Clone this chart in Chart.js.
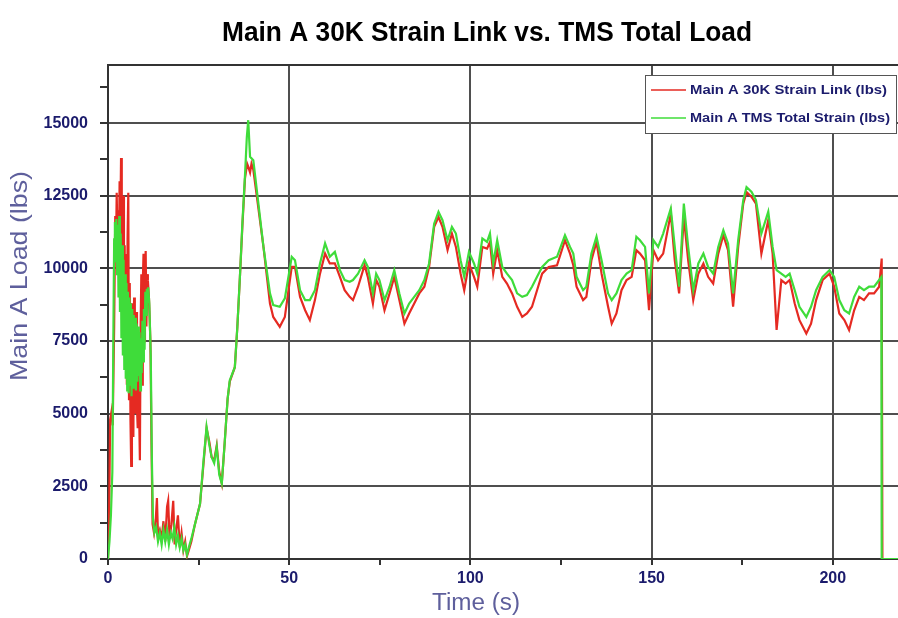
<!DOCTYPE html>
<html>
<head>
<meta charset="utf-8">
<title>Main A 30K Strain Link vs. TMS Total Load</title>
<script src="https://cdn.jsdelivr.net/npm/chart.js@4.4.1/dist/chart.umd.min.js"></script>
<style>
  html, body { margin: 0; padding: 0; background: #fff; }
  canvas { display: block; }
</style>
</head>
<body>
<canvas id="loadChart" width="898" height="618"></canvas>
<script>
// Series (time in s, load in lbs)
const linkTime = [
  0, 0.3, 0.6, 1.0, 1.3, 1.7, 2.0, 2.2, 2.4, 2.6, 2.8, 3.0, 3.2, 3.4, 3.6, 3.8, 4.0, 4.2, 4.4, 4.6,
  4.8, 5.0, 5.2, 5.4, 5.6, 5.8, 6.0, 6.2, 6.4, 6.6, 6.8, 7.0, 7.2, 7.4, 7.6, 7.8, 8.0, 8.2, 8.4, 8.6,
  8.8, 9.0, 9.2, 9.4, 9.6, 9.8, 10.0, 10.2, 10.4, 10.6, 10.8, 11.0, 11.3, 11.7, 12.0, 12.3, 12.7,
  13.2, 13.5, 13.8, 14.3, 14.8, 15.3, 15.8, 16.3, 16.6, 17.0, 17.5, 18.0, 18.4, 18.8, 19.3, 19.8, 20.3, 20.8, 21.3, 21.8,
  22.3, 23.0, 24.0, 25.4, 26.3, 27.2, 28.0, 28.6, 29.3, 30.0, 30.7, 31.4, 32.2, 33.0, 33.6, 35.0, 35.7, 36.4, 37.1, 37.8,
  38.4, 38.7, 39.2, 39.6, 40.1, 42.9, 44.7, 45.6, 47.4, 48.8, 50.7, 51.6, 53.0, 54.4, 55.7, 57.1, 58.5, 59.9, 61.2, 62.6,
  64.0, 65.3, 66.7, 67.6, 69.0, 70.8, 71.7, 73.1, 74.0, 74.9, 76.3, 77.7, 79.0, 80.4, 81.8, 83.1, 84.5, 85.9, 87.3, 88.6,
  90.0, 91.2, 92.3, 93.7, 94.9, 96.0, 97.3, 98.3, 99.6, 101.0, 101.9, 103.3, 104.6, 105.4, 106.3, 107.4, 108.8, 110.1, 111.5, 112.9,
  114.3, 115.6, 117.0, 118.4, 119.8, 121.6, 123.9, 126.1, 127.5, 128.4, 129.3, 131.1, 132.0, 133.4, 134.8, 136.2, 137.1, 138.0, 139.0, 140.3,
  141.7, 143.1, 144.5, 145.8, 146.8, 148.2, 149.3, 150.5, 151.8, 153.2, 155.3, 156.4, 157.6, 158.9, 160.1, 161.5, 162.9, 164.3, 165.6, 167.0,
  168.4, 169.8, 171.1, 172.5, 173.9, 175.3, 176.2, 177.6, 178.8, 180.3, 182.2, 183.4, 184.5, 185.8, 187.0, 188.1, 189.5, 190.8, 192.7, 194.0,
  195.4, 197.2, 199.1, 200.4, 201.8, 203.2, 204.5, 205.9, 207.3, 208.6, 210.0, 211.4, 212.8, 213.5, 213.7, 218
];
const linkLoad = [
  0, 1500, 4800, 5100, 4600, 8000, 11800, 10500, 12600, 11000, 12000, 10000, 13000, 11500, 13800, 9000, 11800, 12500, 7500, 10800,
  6800, 10500, 6000, 11000, 12600, 5500, 9500, 4800, 3200, 8800, 4800, 4200, 9000, 5500, 5000, 8500, 5200, 4500, 7600, 5000,
  3400, 8000, 9800, 6000, 9500, 10500, 7500, 9800, 10600, 8000, 9800, 9600, 9000, 7500, 4000, 1200, 900,
  1400, 2100, 800, 1000, 700, 1300, 600, 1800, 2000, 700, 1200, 2000, 500, 1000, 1500, 400, 900, 300, 600, 100,
  300, 600, 1200, 1900, 3200, 4500, 4000, 3500, 3400, 3900, 3000, 2600, 4000, 5500, 6100, 6600, 8000, 9700, 11500, 13100,
  13600, 13500, 13300, 13600, 13400, 10740, 8790, 8330, 7990, 8330, 10050, 10050, 9020, 8560, 8220, 8910, 9820, 10510, 10170, 10170,
  9710, 9250, 9020, 8910, 9370, 10110, 9710, 8790, 9600, 9370, 8560, 9140, 9710, 8910, 8100, 8450, 8790, 9140, 9370, 10050,
  11430, 11770, 11430, 10630, 11200, 10740, 9820, 9250, 10170, 9710, 9370, 10740, 10680, 10910, 9820, 10630, 9710, 9480, 9140, 8680,
  8330, 8450, 8680, 9250, 9820, 10050, 10110, 10970, 10510, 10110, 9370, 8910, 9020, 10280, 10910, 9820, 9250, 8680, 8100, 8450,
  9250, 9600, 9710, 10630, 10510, 10280, 8560, 10630, 10280, 10510, 11890, 10280, 9140, 11770, 10280, 8910, 9820, 10170, 9710, 9480,
  10510, 11140, 10630, 8680, 10740, 12230, 12630, 12460, 12230, 10510, 11660, 10510, 7880, 9600, 9480, 9600, 8790, 8220, 7760, 8100,
  8910, 9600, 9820, 9370, 8450, 8220, 7880, 8560, 9020, 8910, 9140, 9140, 9370, 10340, 0, 0
];
const tmsTime = [
  0, 0.4, 0.8, 1.2, 1.5, 1.7, 1.9, 2.1, 2.3, 2.5, 2.7, 2.9, 3.1, 3.3, 3.5, 3.7, 3.9, 4.1, 4.3, 4.5,
  4.7, 4.9, 5.1, 5.3, 5.5, 5.7, 5.9, 6.1, 6.3, 6.5, 6.7, 6.9, 7.1, 7.3, 7.5, 7.7, 7.9, 8.1, 8.3, 8.5,
  8.7, 8.9, 9.1, 9.3, 9.5, 9.7, 9.9, 10.1, 10.3, 10.5, 10.7, 10.9, 11.1, 11.4, 11.8, 12.1, 12.4, 12.8,
  13.3, 13.8, 14.3, 14.8, 15.3, 15.8, 16.3, 16.8, 17.3, 17.8, 18.3, 18.8, 19.3, 19.8, 20.3, 20.8, 21.3, 21.8, 22.3, 23.0,
  24.0, 25.4, 26.3, 27.2, 28.0, 28.6, 29.3, 30.0, 30.7, 31.4, 32.2, 33.0, 33.6, 35.0, 35.7, 36.4, 37.1, 37.8, 38.3, 38.7,
  39.2, 40.1, 42.9, 44.7, 45.6, 47.4, 48.8, 50.7, 51.6, 53.0, 54.4, 55.7, 57.1, 58.5, 59.9, 61.2, 62.6, 64.0, 65.3, 66.7,
  67.6, 69.0, 70.8, 71.7, 73.1, 74.0, 74.9, 76.3, 77.7, 79.0, 80.4, 81.8, 83.1, 84.5, 85.9, 87.3, 88.6, 90.0, 91.2, 92.3,
  93.7, 94.9, 96.0, 97.3, 98.3, 99.6, 101.0, 101.9, 103.3, 104.6, 105.4, 106.3, 107.4, 108.8, 110.1, 111.5, 112.9, 114.3, 115.6, 117.0,
  118.4, 119.8, 121.6, 123.9, 126.1, 127.5, 128.4, 129.3, 131.1, 132.0, 133.4, 134.8, 136.2, 137.1, 138.0, 139.0, 140.3, 141.7, 143.1, 144.5,
  145.8, 146.8, 148.2, 149.3, 150.5, 151.8, 153.2, 155.3, 156.4, 157.6, 158.9, 160.1, 161.5, 162.9, 164.3, 165.6, 167.0, 168.4, 169.8, 171.1,
  172.5, 173.9, 175.3, 176.2, 177.6, 178.8, 180.3, 182.2, 183.4, 184.5, 185.8, 187.0, 188.1, 189.5, 190.8, 192.7, 194.0, 195.4, 197.2, 199.1,
  200.4, 201.8, 203.2, 204.5, 205.9, 207.3, 208.6, 210.0, 211.4, 212.8, 213.4, 213.5, 218
];
const tmsLoad = [
  0, 600, 1500, 3000, 8000, 11000, 11600, 10200, 11700, 9800, 11500, 9000, 11800, 8500, 11200, 7600, 10800, 7000, 10300, 6500,
  9800, 6200, 9500, 5800, 9200, 5700, 9000, 6000, 8800, 5600, 8600, 5900, 8400, 6000, 8300, 5800, 8100, 6100, 8000, 6300,
  7800, 5800, 7600, 6400, 8200, 6800, 8600, 7200, 9200, 8400, 9300, 8800, 9350, 8800, 7000, 3500, 1400, 900,
  1100, 600, 900, 500, 1000, 600, 1000, 500, 900, 700, 1100, 500, 800, 400, 700, 300, 500, 150, 400, 700,
  1200, 1900, 3300, 4550, 3900, 3500, 3300, 3850, 2900, 2600, 4000, 5500, 6150, 6600, 8000, 9700, 11600, 13200, 14500, 15100,
  13840, 13720, 10740, 9140, 8740, 8680, 8970, 10400, 10280, 9250, 8910, 8910, 9250, 10170, 10860, 10400, 10570, 9940, 9600, 9540,
  9600, 9820, 10280, 10050, 9140, 9820, 9600, 8910, 9370, 9940, 9140, 8450, 8790, 9020, 9250, 9600, 10170, 11540, 11950, 11660,
  10970, 11430, 11200, 10280, 9710, 10570, 10170, 9820, 11030, 10910, 11200, 10170, 10970, 10050, 9820, 9600, 9140, 9020, 9080, 9370,
  9710, 10050, 10280, 10400, 11140, 10740, 10510, 9710, 9250, 9370, 10510, 11090, 10280, 9710, 9140, 8910, 9140, 9600, 9820, 9940,
  11090, 10970, 10740, 9140, 10970, 10740, 11200, 12060, 10740, 9370, 12230, 10740, 9250, 10170, 10510, 10050, 9820, 10740, 11310, 10860,
  9140, 10970, 12350, 12800, 12630, 12350, 11200, 11950, 10740, 9940, 9820, 9710, 9820, 9250, 8680, 8330, 8680, 9250, 9710, 9940,
  9710, 8910, 8560, 8450, 9020, 9370, 9250, 9370, 9370, 9600, 9700, 0, 0
];
const seriesNames = ['Main A 30K Strain Link (lbs)', 'Main A TMS Total Strain (lbs)'];
const seriesColors = ['#e52a22', '#3fdc3a'];

// Axis ticks: every tick gets a mark, labelled ones get a grid line
const xTicks = [0, 25, 50, 75, 100, 125, 150, 175, 200];
const xLabels = [0, 50, 100, 150, 200];
const yTicks = [0, 1250, 2500, 3750, 5000, 6250, 7500, 8750, 10000, 11250, 12500, 13750, 15000, 16250];
const yLabels = [0, 2500, 5000, 7500, 10000, 12500, 15000];

const X_MAX = 218;
const Y_MAX = 17000;
const NAVY = '#1b1b6c';
const GRID = '#4f4f4f';
const AXIS_TITLE = '#5e5f9c';
const CLEAR = 'rgba(0,0,0,0)';

const toPoints = (xs, ys) => xs.map((x, i) => ({ x, y: ys[i] }));

// Draw text stretched to a target width
function fitText(ctx, text, x, y, width, font, color, align = 'center', angle = 0) {
  ctx.save();
  ctx.translate(x, y);
  ctx.rotate(angle);
  ctx.font = font;
  const w = ctx.measureText(text).width;
  ctx.scale(width / w, 1);
  ctx.fillStyle = color;
  ctx.textAlign = align;
  ctx.textBaseline = 'middle';
  ctx.fillText(text, 0, 0);
  ctx.restore();
}

// Title, axis titles, top frame and the boxed legend
const decorations = {
  id: 'decorations',
  beforeDatasetsDraw(chart) {
    const { ctx, chartArea } = chart;
    ctx.save();
    ctx.strokeStyle = '#333';
    ctx.lineWidth = 2;
    ctx.beginPath();
    ctx.moveTo(chartArea.left, chartArea.top);
    ctx.lineTo(chartArea.right, chartArea.top);
    ctx.stroke();
    ctx.restore();
  },
  afterDraw(chart) {
    const ctx = chart.ctx;
    fitText(ctx, 'Main A 30K Strain Link vs. TMS Total Load', 487, 33, 530,
      'bold 28px "Liberation Sans Narrow", "Liberation Sans", sans-serif', '#000');
    fitText(ctx, 'Main A Load (lbs)', 20, 276, 210,
      '24px "Liberation Sans", Arial, sans-serif', AXIS_TITLE, 'center', -Math.PI / 2);
    fitText(ctx, 'Time (s)', 476, 604, 88,
      '23px "Liberation Sans", Arial, sans-serif', AXIS_TITLE);

    // legend box
    ctx.save();
    ctx.fillStyle = '#fff';
    ctx.fillRect(645, 75, 252, 59);
    ctx.strokeStyle = '#555';
    ctx.lineWidth = 1;
    ctx.strokeRect(645.5, 75.5, 251, 58);
    const rows = [90, 118];
    const widths = [197, 200];
    rows.forEach((y, i) => {
      ctx.strokeStyle = seriesColors[i];
      ctx.lineWidth = 1.5;
      ctx.beginPath();
      ctx.moveTo(651, y);
      ctx.lineTo(686, y);
      ctx.stroke();
      fitText(ctx, seriesNames[i], 690, y, widths[i],
        'bold 13px "Liberation Sans Narrow", "Liberation Sans", sans-serif', NAVY, 'left');
    });
    ctx.restore();
  }
};

const tickFont = { family: '"Liberation Sans", Arial, sans-serif', size: 16, weight: 'bold' };

new Chart(document.getElementById('loadChart'), {
  type: 'line',
  data: {
    datasets: [
      {
        label: seriesNames[0],
        data: toPoints(linkTime, linkLoad),
        borderColor: seriesColors[0],
        borderWidth: 2.2,
        pointRadius: 0,
        tension: 0,
        order: 1
      },
      {
        label: seriesNames[1],
        data: toPoints(tmsTime, tmsLoad),
        borderColor: seriesColors[1],
        borderWidth: 2.2,
        pointRadius: 0,
        tension: 0,
        order: 0
      }
    ]
  },
  options: {
    responsive: false,
    animation: false,
    layout: { padding: { top: 65, left: 0, right: 0, bottom: 0 } },
    plugins: {
      legend: { display: false },
      title: { display: false },
      tooltip: { enabled: false }
    },
    scales: {
      x: {
        type: 'linear',
        min: 0,
        max: X_MAX,
        afterBuildTicks: s => { s.ticks = xTicks.map(value => ({ value })); },
        afterFit: s => { s.height = 59; },
        border: { display: true, color: '#333', width: 2 },
        grid: {
          color: c => (c.tick && c.tick.value > 0 && xLabels.includes(c.tick.value) ? GRID : CLEAR),
          lineWidth: 2,
          tickColor: '#333',
          tickLength: 6
        },
        ticks: {
          autoSkip: false,
          maxRotation: 0,
          padding: 4,
          color: NAVY,
          font: tickFont,
          callback: v => (xLabels.includes(v) ? String(v) : '')
        }
      },
      y: {
        min: 0,
        max: Y_MAX,
        afterBuildTicks: s => { s.ticks = yTicks.map(value => ({ value })); },
        afterFit: s => { s.width = 108; },
        border: { display: true, color: '#333', width: 2 },
        grid: {
          color: c => (c.tick && c.tick.value > 0 && yLabels.includes(c.tick.value) ? GRID : CLEAR),
          lineWidth: 2,
          tickColor: '#333',
          tickLength: 8
        },
        ticks: {
          autoSkip: false,
          padding: 12,
          color: NAVY,
          font: tickFont,
          callback: v => (yLabels.includes(v) ? String(v) : '')
        }
      }
    }
  },
  plugins: [decorations]
});
</script>
</body>
</html>
